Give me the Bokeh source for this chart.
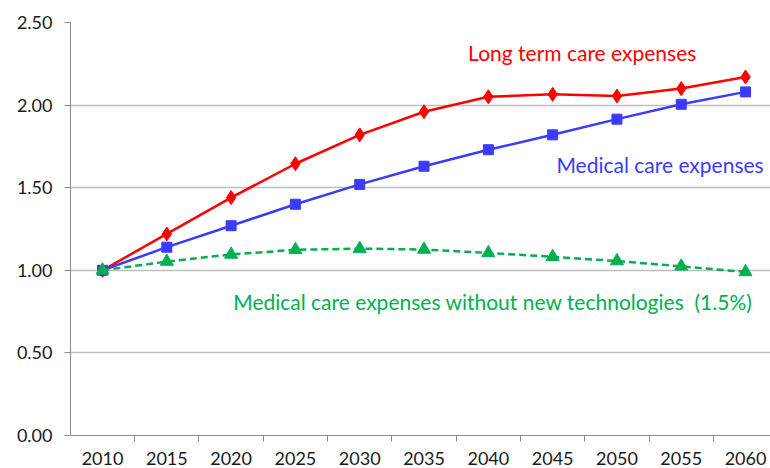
from bokeh.plotting import figure
from bokeh.models import FixedTicker, Label, Range1d, CustomJSTickFormatter
from bokeh.embed import file_html
from bokeh.resources import INLINE

years = [2010, 2015, 2020, 2025, 2030, 2035, 2040, 2045, 2050, 2055, 2060]
long_term_care = [1.00, 1.22, 1.44, 1.645, 1.82, 1.96, 2.05, 2.065, 2.055, 2.10, 2.17]
medical_care = [1.00, 1.14, 1.27, 1.40, 1.52, 1.63, 1.73, 1.82, 1.915, 2.005, 2.08]
medical_no_tech = [1.00, 1.053, 1.096, 1.124, 1.131, 1.126, 1.105, 1.082, 1.056, 1.024, 0.99]
y_ticks = [0.0, 0.5, 1.0, 1.5, 2.0, 2.5]
x_bounds = [2007.5, 2012.5, 2017.5, 2022.5, 2027.5, 2032.5, 2037.5, 2042.5, 2047.5, 2052.5, 2057.5, 2062.5]

FONT = "Lato"
RED = "#FF0000"
BLUE = "#3B3BFF"
GREEN = "#00B050"
AXIS = "#8C8C8C"

p = figure(width=770, height=468, output_backend="svg", toolbar_location=None,
           x_range=Range1d(2007.51, 2061.94), y_range=Range1d(0, 2.5),
           min_border_left=70, min_border_right=0, min_border_top=22, min_border_bottom=33)
p.outline_line_color = None
p.background_fill_color = "white"

# grid
p.xgrid.grid_line_color = None
p.ygrid.ticker = FixedTicker(ticks=y_ticks)
p.ygrid.grid_line_color = "#BFBFBF"
p.ygrid.grid_line_width = 1.5

# axes
p.yaxis.ticker = FixedTicker(ticks=y_ticks)
p.yaxis.formatter = CustomJSTickFormatter(code="return tick.toFixed(2);")
p.yaxis.axis_line_color = AXIS
p.yaxis.major_tick_line_color = AXIS
p.yaxis.major_tick_in = 0
p.yaxis.major_tick_out = 6
p.yaxis.minor_tick_line_color = None
p.yaxis.major_label_text_font = FONT
p.yaxis.major_label_text_font_size = "18px"
p.yaxis.major_label_text_color = "#1a1a1a"
p.yaxis.major_label_standoff = 12

p.xaxis.ticker = FixedTicker(ticks=years, minor_ticks=x_bounds)
p.xaxis.axis_line_color = AXIS
p.xaxis.major_tick_line_color = None
p.xaxis.minor_tick_line_color = AXIS
p.xaxis.minor_tick_in = 0
p.xaxis.minor_tick_out = 6
p.xaxis.major_label_text_font = FONT
p.xaxis.major_label_text_font_size = "18px"
p.xaxis.major_label_text_color = "#1a1a1a"
p.xaxis.major_label_standoff = 10

# series
p.line(years, long_term_care, line_color=RED, line_width=2.5)
p.scatter(years, long_term_care, marker="diamond", size=14, fill_color=RED, line_color=RED)

p.line(years, medical_care, line_color=BLUE, line_width=2.5)
p.scatter(years, medical_care, marker="square", size=10, fill_color=BLUE, line_color=BLUE)

p.line(years, medical_no_tech, line_color=GREEN, line_width=2.5, line_dash="7 4")
p.scatter(years, medical_no_tech, marker="triangle", size=13, fill_color=GREEN, line_color=GREEN)

# labels
for txt, x, y, c in [
    ("Long term care expenses", 2047.3, 2.32, RED),
    ("Medical care expenses", 2053.35, 1.64, BLUE),
    ("Medical care expenses without new technologies\u00a0 (1.5%)", 2040.36, 0.81, GREEN),
]:
    p.add_layout(Label(x=x, y=y, text=txt, text_color=c, text_font=FONT,
                       text_font_size="21px", text_align="center", text_baseline="middle"))

open("out.html", "w").write(file_html(p, INLINE))
